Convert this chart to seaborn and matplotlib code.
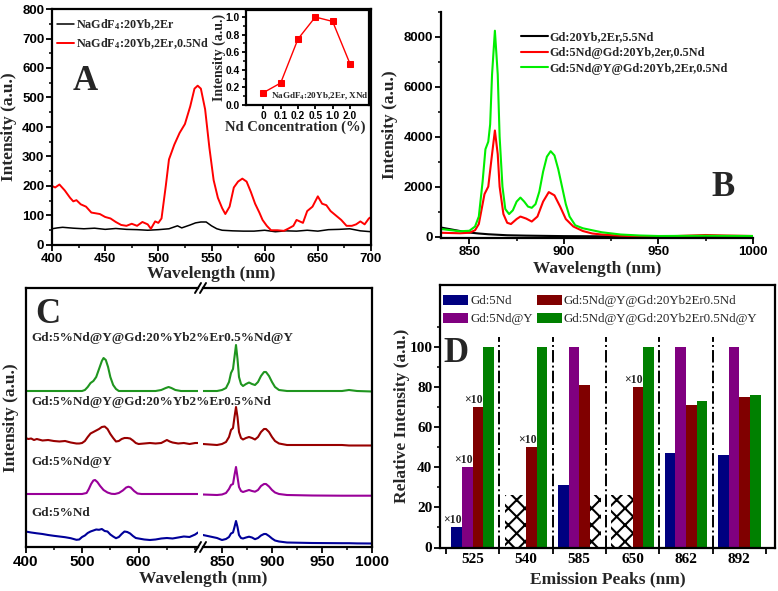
import numpy as np
import pandas as pd
import matplotlib
matplotlib.use('Agg')
import matplotlib.pyplot as plt
from matplotlib.ticker import MultipleLocator, FixedLocator
from matplotlib.patches import Patch
import seaborn as sns

# ---------------- panel A : upconversion spectra (400-700 nm)
a_wl_base = [400, 405, 410, 420, 430, 440, 450, 460, 470, 480, 490, 500, 510, 518, 522, 530, 535, 540,
             545, 550, 555, 560, 570, 580, 590, 600, 610, 620, 630, 640, 650, 660, 670, 680, 690, 700]
a_int_base = [55, 58, 60, 57, 55, 57, 53, 56, 53, 52, 50, 52, 55, 65, 58, 68, 75, 78,
              78, 65, 55, 50, 48, 47, 47, 50, 45, 48, 47, 50, 47, 52, 53, 55, 48, 45]
a_wl_nd = [400, 403, 407, 412, 417, 420, 423, 427, 432, 437, 445, 450, 455, 460, 465, 470, 475, 480,
           485, 490, 493, 497, 500, 503, 507, 510, 515, 520, 525, 530, 534, 537, 540, 544, 548, 552,
           556, 560, 563, 567, 571, 575, 579, 583, 587, 591, 595, 598, 602, 606, 612, 618, 622, 627,
           630, 633, 636, 640, 645, 650, 654, 658, 662, 667, 672, 677, 682, 686, 690, 694, 698, 700]
a_int_nd = [200, 195, 205, 185, 160, 148, 152, 138, 130, 110, 105, 95, 90, 78, 68, 65, 72, 65,
            78, 70, 55, 80, 75, 90, 200, 290, 340, 380, 410, 470, 530, 540, 530, 460, 330, 220,
            160, 125, 105, 130, 195, 215, 225, 215, 180, 140, 110, 85, 65, 50, 50, 48, 55, 65,
            85, 80, 75, 115, 130, 165, 140, 135, 115, 100, 85, 65, 65, 70, 80, 70, 90, 95]
a_labels = ['NaGdF$_4$:20Yb,2Er', 'NaGdF$_4$:20Yb,2Er,0.5Nd']

# inset: intensity vs Nd concentration
inset_conc = ['0', '0.1', '0.2', '0.5', '1.0', '2.0']
inset_int = [0.14, 0.25, 0.75, 1.0, 0.95, 0.47]

# ---------------- panel B : Nd emission (830-1000 nm)
b_wl_core = [835, 840, 845, 850, 855, 860, 865, 870, 880, 890, 900, 920, 950, 1000]
b_int_core = [360, 290, 220, 160, 120, 90, 70, 50, 35, 25, 15, 8, 5, 5]
b_wl_cs = [835, 845, 850, 853, 855, 857, 858, 860, 862, 863.5, 865, 866, 868, 870, 872, 875, 877, 880,
           883, 886, 889, 892, 895, 898, 901, 905, 910, 915, 920, 930, 940, 950, 960, 975, 985, 1000]
b_int_cs = [150, 130, 150, 250, 500, 1300, 1700, 2000, 3300, 4250, 3300, 2000, 900, 550, 500, 700, 800, 720,
            600, 800, 1400, 1780, 1650, 1200, 700, 400, 220, 120, 80, 30, 10, 10, 20, 60, 40, 20]
b_wl_csy = [835, 845, 850, 853, 855, 857, 858.5, 860, 861, 862, 863.5, 865, 866, 867.5, 869, 871, 873,
            875, 877, 879, 881, 883, 885, 887, 889, 891, 893, 895, 897, 899, 901, 903, 906, 910, 915,
            920, 930, 940, 950, 975, 1000]
b_int_csy = [300, 210, 230, 400, 800, 2200, 3500, 3800, 4500, 6500, 8250, 6500, 4000, 2000, 1100, 900, 1050,
             1400, 1560, 1400, 1200, 1150, 1300, 1800, 2600, 3200, 3420, 3250, 2700, 2000, 1300, 800, 450,
             330, 250, 170, 80, 40, 20, 30, 20]
b_labels = ['Gd:20Yb,2Er,5.5Nd', 'Gd:5Nd@Gd:20Yb,2er,0.5Nd', 'Gd:5Nd@Y@Gd:20Yb,2Er,0.5Nd']

# ---------------- panel C : stacked spectra (offset, a.u.)
c_names = ['Gd:5%Nd@Y@Gd:20%Yb2%Er0.5%Nd@Y', 'Gd:5%Nd@Y@Gd:20%Yb2%Er0.5%Nd', 'Gd:5%Nd@Y', 'Gd:5%Nd']
c_label_y = [209, 145, 85, 34]

c_vis_green_x = [400, 450, 500, 505, 510, 515, 520, 525, 530, 535, 538, 542, 546, 550, 555, 560, 565,
                 600, 630, 640, 648, 653, 658, 665, 675, 705]
c_vis_green_y = [156, 156, 156, 157, 160, 164, 166, 170, 178, 186, 189, 187, 180, 170, 162, 158, 156,
                 156, 156, 157, 159, 160, 159, 157, 156, 156]
c_vis_red_x = [400, 405, 410, 415, 420, 430, 440, 450, 460, 470, 480, 490, 495, 500, 505, 510, 515, 520,
               525, 530, 535, 540, 545, 550, 555, 560, 565, 570, 575, 580, 585, 590, 595, 600, 610, 620,
               630, 640, 645, 650, 655, 660, 670, 680, 690, 700, 705]
c_vis_red_y = [109, 108, 108.5, 107, 108, 106.5, 107, 106, 105.5, 106, 104.5, 103.5, 103.5, 104, 106, 110,
               113.5, 115, 116.5, 118, 120, 120.5, 118, 113, 109, 105.5, 106, 108, 109, 109, 108.5, 106.5,
               104, 103, 103.5, 104, 103.5, 104, 105.5, 107, 105.5, 104.5, 103.5, 104, 103, 104, 104]
c_vis_purple_x = [400, 450, 500, 508, 512, 516, 520, 523, 527, 532, 538, 545, 552, 558, 565, 572, 578,
                  582, 586, 592, 598, 605, 650, 705]
c_vis_purple_y = [53, 53, 53, 54, 58, 63, 66.5, 67, 65, 61, 57, 54.5, 53.2, 53, 54, 56.5, 59.5,
                  60.3, 59.5, 56, 53.5, 53, 53, 53]
c_vis_blue_x = [400, 410, 420, 430, 440, 450, 460, 470, 480, 490, 495, 500, 505, 510, 515, 520, 525, 530,
                535, 540, 545, 550, 555, 560, 565, 570, 575, 580, 585, 590, 595, 600, 610, 620, 630, 640,
                650, 660, 670, 680, 690, 700, 705]
c_vis_blue_y = [15.5, 14.5, 13.7, 13, 12, 11.2, 10.5, 9.8, 8.8, 7.2, 7.5, 10, 11.5, 14, 15.5, 16.5, 17.5,
                17.2, 18, 16, 15.5, 12.5, 10.5, 8.8, 10, 13, 15.5, 15, 13.5, 11, 9, 8.5, 7.5, 7, 7.5, 8.5,
                9, 8.5, 9.5, 10.5, 10, 12.5, 14.5]

c_nir_x = [831, 845, 850, 854, 857, 859, 861, 862.5, 864, 865.5, 867, 869, 871, 874, 877, 880, 883, 886,
           889, 892, 894, 897, 900, 903, 907, 915, 940, 970, 977, 985, 1000]
c_nir_green_y = [156, 156, 157, 159, 165, 174, 178, 190, 202, 188, 170, 163, 161, 163, 164.5, 163, 162, 165,
                 171, 175, 175, 171, 165, 160, 157, 156, 156, 156, 157, 156, 155.5]
c_nir_red_y = [103, 102, 103, 105, 110, 117, 119, 130, 140, 130, 115, 109, 107.5, 109, 110, 109, 107.5, 110,
               115, 118, 118, 115, 110, 106, 103.5, 102, 102, 102, 101.5, 101.5, 101.5]
c_nir_purple_y = [52.5, 52, 52.5, 54, 58, 62, 63, 72, 80, 70, 60, 56, 55, 56, 57, 56, 55.3, 57,
                  61, 63, 63, 60.5, 57, 54.5, 53, 52, 51.5, 51.3, 51.3, 51.3, 51.3]
c_nir_blue_y = [12, 9, 7, 8, 10, 13.5, 14.5, 20, 26, 20, 12, 9, 8.5, 9.5, 10.3, 9.5, 7.8, 9,
                11.5, 13, 13, 11, 8.5, 6.5, 5.5, 4.5, 4, 3.8, 3.8, 3.6, 3.5]
c_colors = ['#1f951f', '#990000', '#990099', '#000099']

# ---------------- panel D : relative intensity bars
peaks = ['525', '540', '585', '650', '862', '892']
samples = ['Gd:5Nd', 'Gd:5Nd@Y', 'Gd:5Nd@Y@Gd:20Yb2Er0.5Nd', 'Gd:5Nd@Y@Gd:20Yb2Er0.5Nd@Y']
d_gd5nd = [10, np.nan, 31, np.nan, 47, 46]
d_gd5nd_y = [40, np.nan, 100, np.nan, 100, 100]
d_core_shell = [70, 50, 81, 80, 71, 75]
d_core_shell_y = [100, 100, np.nan, 100, 73, 76]
d_missing_height = 26          # hatched placeholder bars
d_times10 = [('525', 'Gd:5Nd'), ('525', 'Gd:5Nd@Y'), ('525', 'Gd:5Nd@Y@Gd:20Yb2Er0.5Nd'),
             ('540', 'Gd:5Nd@Y@Gd:20Yb2Er0.5Nd'), ('650', 'Gd:5Nd@Y@Gd:20Yb2Er0.5Nd')]
d_colors = ['#000080', '#800080', '#800000', '#008000']

# ---------------- style
sns.set_theme(style='ticks')
SERIF = 'Liberation Serif'
SANS = 'Liberation Sans'
plt.rcParams['font.family'] = [SERIF, 'DejaVu Serif']
plt.rcParams['font.weight'] = 'bold'
plt.rcParams['axes.labelweight'] = 'bold'
plt.rcParams['mathtext.default'] = 'regular'
plt.rcParams['axes.linewidth'] = 1.6
plt.rcParams['axes.edgecolor'] = 'black'
plt.rcParams['xtick.color'] = 'black'
plt.rcParams['ytick.color'] = 'black'
plt.rcParams['hatch.linewidth'] = 1.5
plt.rcParams['hatch.color'] = 'black'

W, H = 778, 591
fig = plt.figure(figsize=(W / 100, H / 100), dpi=100)


def box(l, t, r, b):
    return [l / W, 1 - b / H, (r - l) / W, (b - t) / H]


def ticks(ax, size, family=SANS, x=True, y=True):
    ax.tick_params(which='major', length=4, width=1.3, labelsize=size, labelfontfamily=family,
                   pad=1.5, colors='black')
    ax.tick_params(which='minor', length=2.2, width=1.1)
    if not x:
        ax.tick_params(axis='x', which='both', bottom=False, labelbottom=False)
    if not y:
        ax.tick_params(axis='y', which='both', left=False, labelleft=False)


LABEL = 12.5

# ---------------- A
axA = fig.add_axes(box(52, 9, 371, 245))
sns.lineplot(x=a_wl_base, y=a_int_base, ax=axA, color='black', lw=1.1, label=a_labels[0])
sns.lineplot(x=a_wl_nd, y=a_int_nd, ax=axA, color='#ff0000', lw=1.4, label=a_labels[1])
axA.set_xlim(400, 700)
axA.set_ylim(0, 800)
axA.xaxis.set_major_locator(MultipleLocator(50))
axA.xaxis.set_minor_locator(MultipleLocator(25))
axA.yaxis.set_major_locator(MultipleLocator(100))
axA.yaxis.set_minor_locator(MultipleLocator(50))
ticks(axA, 9.5)
axA.set_xlabel('Wavelength (nm)', fontsize=LABEL)
axA.set_ylabel('Intensity (a.u.)', fontsize=LABEL)
axA.xaxis.set_label_coords(0.5, -0.088)
axA.yaxis.set_label_coords(-0.11, 0.5)
axA.legend(loc='upper left', bbox_to_anchor=(0.015, 0.965), frameon=False, fontsize=8.7,
           handlelength=1.4, handletextpad=0.2, labelspacing=0.35, borderaxespad=0, borderpad=0)
axA.text(0.103, 0.657, 'A', transform=axA.transAxes, fontsize=25, ha='center', va='baseline')

axIn = fig.add_axes(box(246, 10, 369, 105))
sns.lineplot(x=inset_conc, y=inset_int, ax=axIn, color='#ff0000', lw=1.0, marker='s',
             markersize=4, markeredgecolor='#ff0000', sort=False)
axIn.set_xlim(-1, 6.1)
axIn.set_ylim(0, 1.08)
axIn.yaxis.set_major_locator(MultipleLocator(0.2))
axIn.yaxis.set_minor_locator(MultipleLocator(0.1))
axIn.yaxis.set_major_formatter('{x:.1f}')
ticks(axIn, 7.4)
axIn.tick_params(which='major', length=3)
axIn.set_xlabel('Nd Concentration (%)', fontsize=10.5)
axIn.set_ylabel('Intensity (a.u.)', fontsize=10)
axIn.xaxis.set_label_coords(0.4, -0.16)
axIn.yaxis.set_label_coords(-0.16, 0.5)
axIn.text(0.995, 0.085, 'NaGdF$_4$:20Yb,2Er, XNd', transform=axIn.transAxes, fontsize=6.6,
          ha='right', va='center')

# ---------------- B
axB = fig.add_axes(box(441, 12, 753, 238))
for xs, ys, col, lab in [(b_wl_core, b_int_core, 'black', b_labels[0]),
                         (b_wl_cs, b_int_cs, '#ff0000', b_labels[1]),
                         (b_wl_csy, b_int_csy, '#00ee00', b_labels[2])]:
    sns.lineplot(x=xs, y=ys, ax=axB, color=col, lw=1.5, label=lab)
axB.set_xlim(835, 1000)
axB.set_ylim(-60, 9000)
axB.xaxis.set_major_locator(MultipleLocator(50))
axB.xaxis.set_minor_locator(MultipleLocator(25))
axB.yaxis.set_major_locator(MultipleLocator(2000))
axB.yaxis.set_minor_locator(MultipleLocator(1000))
axB.spines[['top', 'right']].set_visible(False)
ticks(axB, 9.5)
axB.set_xlabel('Wavelength (nm)', fontsize=LABEL)
axB.set_ylabel('Intensity (a.u.)', fontsize=LABEL)
axB.xaxis.set_label_coords(0.5, -0.1)
axB.yaxis.set_label_coords(-0.138, 0.5)
axB.legend(loc='upper left', bbox_to_anchor=(0.256, 0.915), frameon=False, fontsize=8.8,
           handlelength=2.2, handletextpad=0.15, labelspacing=0.3, borderaxespad=0, borderpad=0)
axB.text(0.904, 0.184, 'B', transform=axB.transAxes, fontsize=25, ha='center', va='baseline')

# ---------------- C (broken x axis)
axC1 = fig.add_axes(box(25.5, 288, 198, 547))
axC2 = fig.add_axes(box(203, 288, 372, 547))
axC2.patch.set_visible(False)
vis = [(c_vis_green_x, c_vis_green_y), (c_vis_red_x, c_vis_red_y),
       (c_vis_purple_x, c_vis_purple_y), (c_vis_blue_x, c_vis_blue_y)]
nir = [c_nir_green_y, c_nir_red_y, c_nir_purple_y, c_nir_blue_y]
for (xs, ys), ys2, col in zip(vis, nir, c_colors):
    sns.lineplot(x=xs, y=ys, ax=axC1, color=col, lw=1.5)
    sns.lineplot(x=c_nir_x, y=ys2, ax=axC2, color=col, lw=1.5)
axC1.set_xlim(400, 705)
axC2.set_xlim(831, 1000)
for ax in (axC1, axC2):
    ax.set_ylim(0, 259)
    ax.set_yticks([])
    ax.set_ylabel('')
axC1.xaxis.set_major_locator(FixedLocator([400, 500, 600]))
axC1.xaxis.set_minor_locator(FixedLocator([450, 550, 650, 700]))
axC2.xaxis.set_major_locator(MultipleLocator(50))
axC2.xaxis.set_minor_locator(MultipleLocator(25))
axC1.spines['right'].set_visible(False)
axC2.spines['left'].set_visible(False)
ticks(axC1, 11)
ticks(axC2, 11)
axC1.set_ylabel('Intensity (a.u.)', fontsize=LABEL)
axC1.yaxis.set_label_coords(-0.035, 0.5)
for name, yy in zip(c_names, c_label_y):
    axC1.text(411, yy, name, fontsize=9.5, ha='left', va='center', clip_on=False, zorder=5)
axC1.text(0.132, 0.864, 'C', transform=axC1.transAxes, fontsize=25, ha='center', va='baseline')
fig.text(203 / W, 1 - 579 / H, 'Wavelength (nm)', fontsize=LABEL, ha='center', va='center')
# break marks
for ax, x0 in ((axC1, 1.0), (axC2, 0.0)):
    dx = 3.0 / (ax.get_position().width * W)
    dy = 5.0 / (ax.get_position().height * H)
    for y0 in (0, 1):
        ax.plot([x0 - dx, x0 + dx], [y0 - dy, y0 + dy], transform=ax.transAxes,
                color='black', lw=1.4, clip_on=False)

# ---------------- D
axD = fig.add_axes(box(440, 285, 775, 547.5))
d_vals = [d_gd5nd, d_gd5nd_y, d_core_shell, d_core_shell_y]
d_df = pd.DataFrame([(p, s, v) for s, vals in zip(samples, d_vals) for p, v in zip(peaks, vals)],
                    columns=['peak', 'sample', 'value'])
d_bars = d_df.dropna()
d_hatch = d_df[d_df['value'].isna()].assign(value=d_missing_height)
sns.barplot(data=d_bars, x='peak', y='value', hue='sample', order=peaks, hue_order=samples,
            palette=d_colors, saturation=1, errorbar=None, legend=False, linewidth=0, ax=axD)
n_main = len(axD.containers)
sns.barplot(data=d_hatch, x='peak', y='value', hue='sample', order=peaks, hue_order=samples,
            palette=['white'] * 4, saturation=1, errorbar=None, legend=False,
            edgecolor='black', linewidth=0, ax=axD)
for cont in axD.containers[n_main:]:
    for p in cont:
        p.set_hatch('xx')

# x10 marks
for peak, s in d_times10:
    i = samples.index(s)
    present = [p for p, v in zip(peaks, d_vals[i]) if not np.isnan(v)]
    bar = axD.containers[i][present.index(peak)]
    axD.text(bar.get_x() + 0.1 * bar.get_width(), bar.get_height() + 0.5, '×10',
             fontsize=8.5, ha='center', va='bottom')

bounds = np.arange(len(peaks) - 1) + 0.5
axD.vlines(bounds, 0, 105, colors='black', linestyles='-.', lw=1.4)
axD.set_xlim(-0.61, 5.67)
axD.set_ylim(0, 131)
axD.yaxis.set_major_locator(FixedLocator([0, 20, 40, 60, 80, 100]))
axD.yaxis.set_minor_locator(FixedLocator([10, 30, 50, 70, 90, 110]))
axD.xaxis.set_minor_locator(FixedLocator(np.arange(-0.5, len(peaks), 1.0)))
ticks(axD, 11, family=SERIF)
axD.tick_params(axis='x', which='major', length=0, pad=4)
axD.tick_params(axis='x', which='minor', length=4, width=1.3)
axD.set_xlabel('Emission Peaks (nm)', fontsize=LABEL)
axD.set_ylabel('Relative Intensity (a.u.)', fontsize=LABEL)
axD.xaxis.set_label_coords(0.5, -0.09)
axD.yaxis.set_label_coords(-0.09, 0.5)
handles = [Patch(facecolor=c, edgecolor='none', label=s) for c, s in zip(d_colors, samples)]
axD.legend(handles=handles, ncol=2, loc='upper left', bbox_to_anchor=(0.009, 0.963), frameon=False,
           prop={'family': SERIF, 'weight': 'normal', 'size': 9.3}, handlelength=1.95,
           handleheight=0.8, handletextpad=0.15, columnspacing=0.3, labelspacing=0.45,
           borderaxespad=0, borderpad=0)
axD.text(0.048, 0.707, 'D', transform=axD.transAxes, fontsize=25, ha='center', va='baseline')

fig.savefig('out.png', dpi=100)
